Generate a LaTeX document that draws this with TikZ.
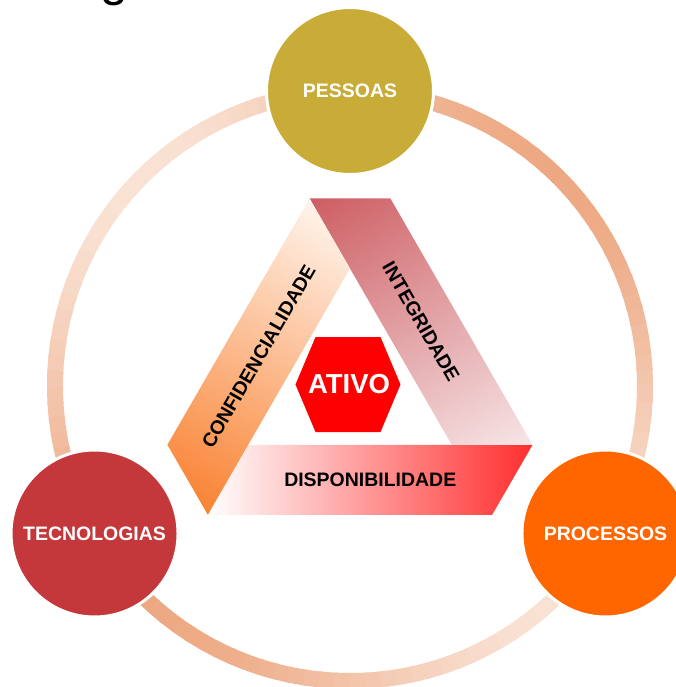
\documentclass[tikz,border=0pt]{standalone}
\usepackage{fontspec}
\setmainfont{Liberation Sans}
\definecolor{cPessoas}{HTML}{C9AC38}
\definecolor{cTecno}{HTML}{C4373A}
\definecolor{cProc}{HTML}{FF6600}
\definecolor{cAtivo}{HTML}{FF0000}
\definecolor{cRingDark}{HTML}{EDA882}
\definecolor{cRingLight}{HTML}{F9E2D4}
\definecolor{cDispA}{HTML}{FFFFFF}
\definecolor{cDispB}{HTML}{FF2E2E}
\definecolor{cIntA}{HTML}{F7E6E7}
\definecolor{cIntB}{HTML}{CD5E63}
\definecolor{cConfA}{HTML}{FFF4EC}
\definecolor{cConfB}{HTML}{F98232}

\begin{document}
\begin{tikzpicture}[
    x=0.75pt, y=0.75pt,
    font=\fontsize{14.6pt}{17pt}\selectfont\bfseries,
    hub/.style={circle, draw=white, line width=2.25pt, minimum size=125.25pt, inner sep=0pt, text=white},
    ringseg/.style={line width=12pt},
    bandlbl/.style={inner sep=0pt, text=black},
    ativolbl/.style={inner sep=0pt, text=white, font=\fontsize{20.6pt}{24pt}\selectfont\bfseries}
]
\useasboundingbox (-350,-301) rectangle (326,386);

% cut-off title
\node[anchor=base west, inner sep=0pt, font=\fontsize{37.5pt}{40pt}\selectfont] (title) at (-250,390.5) {g};

% outer ring
\foreach \a in {0,3,...,357} {
  \pgfmathtruncatemacro\t{50+50*sin(2*\a)}
  \draw[ringseg, cRingDark!\t!cRingLight] (\a:295) arc[start angle=\a, end angle=\a+3.6, radius=295];
}

\node[hub, fill=cPessoas] (pessoas) at (90:295) {PESSOAS};
\node[hub, fill=cTecno] (tecnologias) at (210:295) {TECNOLOGIAS};
\node[hub, fill=cProc] (processos) at (330:295) {PROCESSOS};

% three bands of the triangle
\foreach \r/\ca/\cb in {0/cDispA/cDispB, 120/cIntA/cIntB, 240/cConfA/cConfB} {
  \begin{scope}[transform canvas={rotate=\r}]
    \shade[left color=\ca, right color=\cb] (210:117.5) -- (182.6,-58.75) -- (142.2,-128.75) -- (-142.2,-128.75) -- cycle;
  \end{scope}
}

% hexagon
\fill[cAtivo] (-54.5,1.5) -- (-34.5,49) -- (30.5,49) -- (50.5,1.5) -- (30.5,-46) -- (-34.5,-46) -- cycle;
\node[ativolbl] (ativo) at (-1,2) {ATIVO};

\node[bandlbl] (disp) at (282.2:95.9) {DISPONIBILIDADE};
\node[bandlbl, rotate=-60] (integ) at (42.2:95.9) {INTEGRIDADE};
\node[bandlbl, rotate=60] (conf) at (162.2:95.9) {CONFIDENCIALIDADE};
\end{tikzpicture}
\end{document}
